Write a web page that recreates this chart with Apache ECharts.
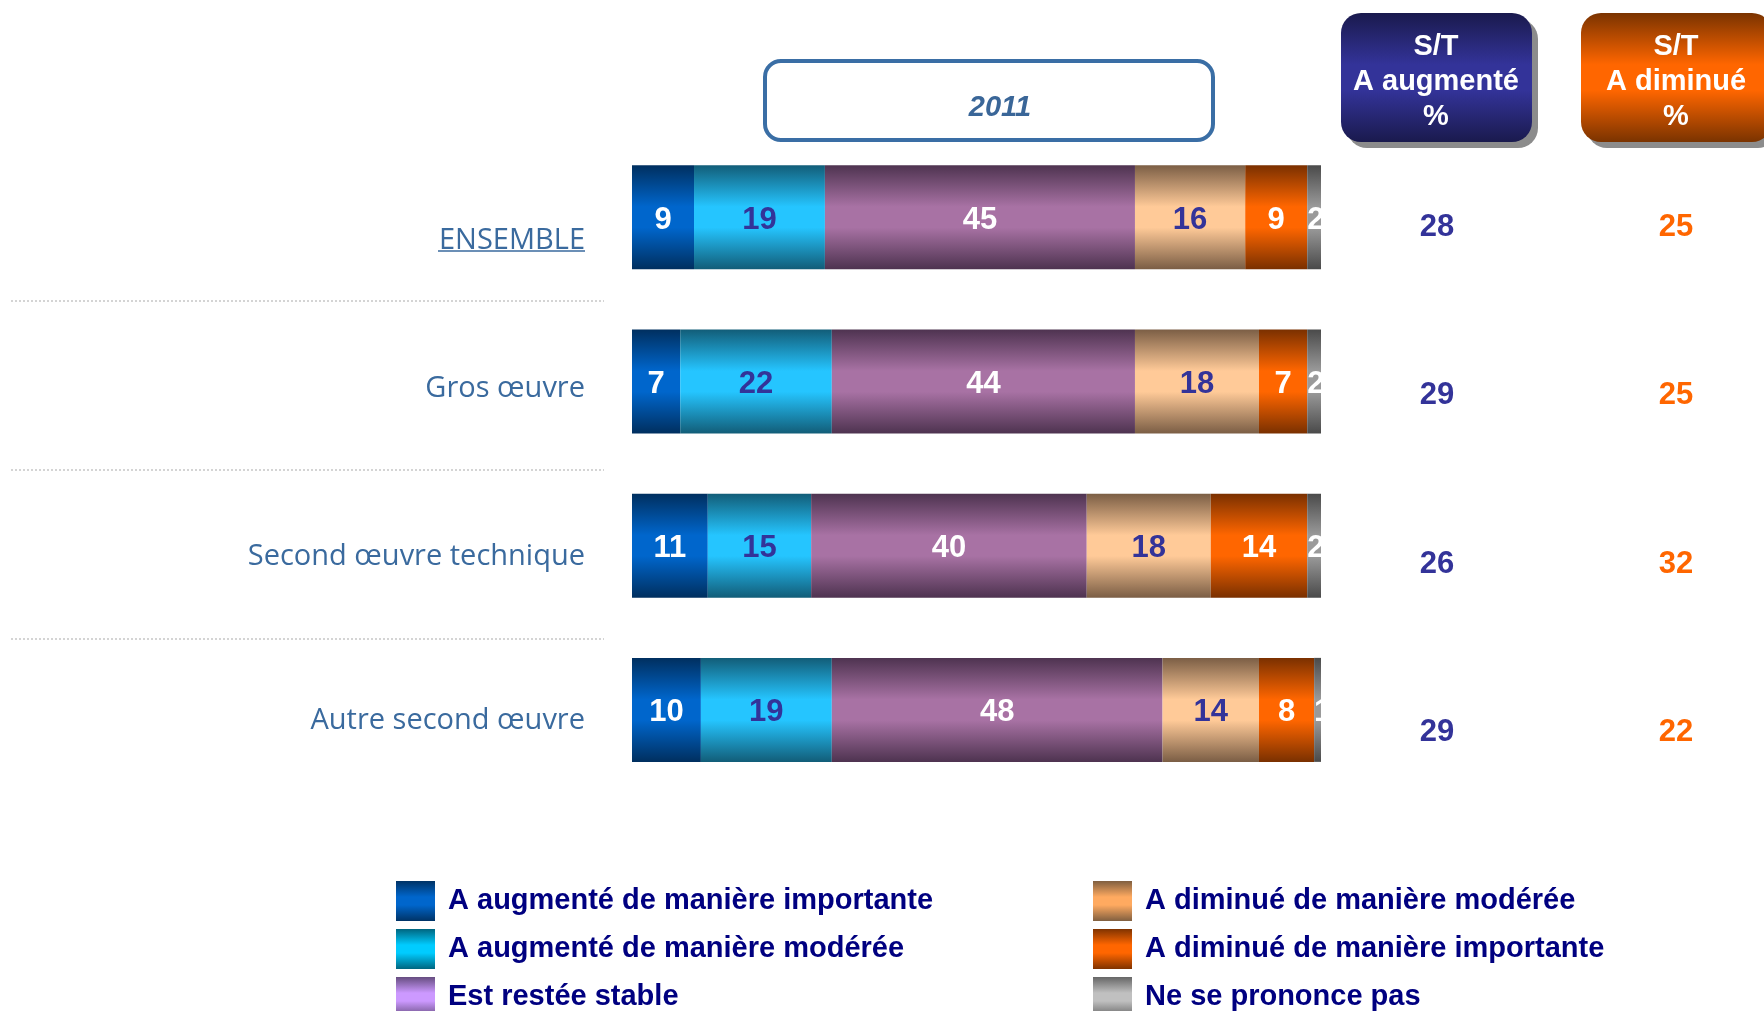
<!DOCTYPE html>
<html>
<head>
<meta charset="utf-8">
<script src="https://cdn.jsdelivr.net/npm/echarts@6/dist/echarts.min.js"></script>
<style>
html, body { margin: 0; padding: 0; background: #fff; }
#chart { width: 1764px; height: 1011px; }
</style>
</head>
<body>
<div id="chart"></div>
<script>
// données
var categories = ['ENSEMBLE', 'Gros œuvre', 'Second œuvre technique', 'Autre second œuvre'];
var augImportante = [9, 7, 11, 10];
var augModeree = [19, 22, 15, 19];
var stable = [45, 44, 40, 48];
var dimModeree = [16, 18, 18, 14];
var dimImportante = [9, 7, 14, 8];
var nsp = [2, 2, 2, 1];
var stAugmente = [28, 29, 26, 29];
var stDiminue = [25, 25, 32, 22];
var yearLabel = '2011';

var seriesNames = [
	'A augmenté de manière importante',
	'A augmenté de manière modérée',
	'Est restée stable',
	'A diminué de manière modérée',
	'A diminué de manière importante',
	'Ne se prononce pas'
];
var seriesData = [augImportante, augModeree, stable, dimModeree, dimImportante, nsp];

function grad(edge, mid) {
	return new echarts.graphic.LinearGradient(0, 0, 0, 1, [
		{ offset: 0, color: edge },
		{ offset: 0.4, color: mid },
		{ offset: 0.6, color: mid },
		{ offset: 1, color: edge }
	]);
}

// couleurs barres
var barColors = [
	grad('#002f5f', '#0066cc'),
	grad('#125d78', '#25c5ff'),
	grad('#4e3350', '#a872a4'),
	grad('#7b5e45', '#ffca98'),
	grad('#7a3000', '#ff6600'),
	grad('#4a4a4a', '#9a9a9a')
];
// couleurs légende
var legendColors = [
	grad('#003366', '#0066cc'),
	grad('#006680', '#00ccff'),
	grad('#664d80', '#cc99ff'),
	grad('#805f40', '#ffaa60'),
	grad('#803300', '#ff6600'),
	grad('#666666', '#c0c0c0')
];
var labelColors = ['#ffffff', '#333399', '#ffffff', '#333399', '#ffffff', '#ffffff'];

var chart = echarts.init(document.getElementById('chart'));

var series = [];
seriesNames.forEach(function(name, i) {
	series.push({
		name: name,
		type: 'bar',
		stack: 'total',
		barWidth: 104,
		xAxisIndex: 0,
		yAxisIndex: 0,
		data: seriesData[i],
		itemStyle: { color: barColors[i] },
		label: {
			show: true,
			position: i == 5 ? 'insideLeft' : 'inside',
			distance: 0,
			offset: [0, 3],
			fontFamily: 'Liberation Sans',
			fontWeight: 'bold',
			fontSize: 31,
			color: labelColors[i]
		}
	});
});

// colonnes S/T
function stSeries(name, values, col, color) {
	return {
		name: name,
		type: 'scatter',
		xAxisIndex: 1,
		yAxisIndex: 1,
		symbolSize: 1,
		itemStyle: { color: 'rgba(0,0,0,0)', opacity: 1 },
		data: values.map(function(v, i) { return [col, i, v]; }),
		label: {
			show: true,
			position: 'inside',
			formatter: function(p) { return p.value[2]; },
			fontFamily: 'Liberation Sans',
			fontWeight: 'bold',
			fontSize: 31,
			color: color
		}
	};
}
series.push(stSeries('S/T A augmenté', stAugmente, 0, '#333399'));
series.push(stSeries('S/T A diminué', stDiminue, 1, '#ff6600'));

function legendItems(from, to) {
	var out = [];
	for (var i = from; i < to; i++) {
		out.push({ name: seriesNames[i], itemStyle: { color: legendColors[i] } });
	}
	return out;
}
var legendBase = {
	orient: 'vertical',
	top: 881,
	height: 200,
	itemWidth: 39,
	itemHeight: 40,
	itemGap: 8,
	icon: 'rect',
	selectedMode: false,
	padding: 0,
	textStyle: {
		fontFamily: 'Liberation Sans',
		fontWeight: 'bold',
		fontSize: 29,
		color: '#000080',
		padding: [0, 0, 0, 8]
	}
};

function headerBox(x, edge, mid, text) {
	return [
		{ type: 'rect', shape: { x: x + 6, y: 19, width: 191, height: 129, r: 20 }, style: { fill: '#8c8c8c' } },
		{ type: 'rect', shape: { x: x, y: 13, width: 191, height: 129, r: 20 }, style: { fill: grad(edge, mid) } },
		{
			type: 'text', x: x + 95, y: 82,
			style: {
				text: text, align: 'center', verticalAlign: 'middle',
				font: 'bold 29px "Liberation Sans"', fill: '#ffffff', lineHeight: 35
			}
		}
	];
}

var graphics = [
	// encadré année
	{ type: 'rect', shape: { x: 765, y: 61, width: 448, height: 79, r: 16 }, style: { fill: '#fff', stroke: '#3a6ea5', lineWidth: 4 } },
	{ type: 'text', x: 1000, y: 108, style: { text: yearLabel, align: 'center', verticalAlign: 'middle', font: 'italic bold 29px "Liberation Sans"', fill: '#3a6698' } },
	// séparateurs
	{ type: 'line', shape: { x1: 11, y1: 301, x2: 604, y2: 301 }, style: { stroke: '#aaaaaa', lineWidth: 1, lineDash: [2, 2] } },
	{ type: 'line', shape: { x1: 11, y1: 470, x2: 604, y2: 470 }, style: { stroke: '#aaaaaa', lineWidth: 1, lineDash: [2, 2] } },
	{ type: 'line', shape: { x1: 11, y1: 639, x2: 604, y2: 639 }, style: { stroke: '#aaaaaa', lineWidth: 1, lineDash: [2, 2] } },
	// soulignement ENSEMBLE
	{ type: 'line', shape: { x1: 438, y1: 251, x2: 585, y2: 251 }, style: { stroke: '#3a6a9e', lineWidth: 1.5 } }
].concat(headerBox(1341, '#1a1a4d', '#333399', 'S/T\nA augmenté\n%'))
 .concat(headerBox(1581, '#7a3300', '#ff6600', 'S/T\nA diminué\n%'));

// décalage vertical des libellés
var labelPad = [47, 14, 22, 22];

var option = {
	animation: false,
	backgroundColor: '#ffffff',
	grid: [
		{ left: 632, right: 443, top: 135, bottom: 219 },
		{ left: 1437, right: 88, top: 143, bottom: 194 }
	],
	xAxis: [
		{ type: 'value', gridIndex: 0, min: 0, max: 100, show: false },
		{ type: 'value', gridIndex: 1, min: 0, max: 1, show: false }
	],
	yAxis: [
		{
			type: 'category',
			gridIndex: 0,
			inverse: true,
			data: categories,
			axisLine: { show: false },
			axisTick: { show: false },
			axisLabel: {
				margin: 47,
				fontFamily: 'Open Sans',
				fontSize: 29,
				color: '#3a6a9e',
				formatter: function(v, i) {
					return '{r' + i + '|' + v + '}';
				},
				rich: {
					r0: { fontFamily: 'Open Sans', fontSize: 29, color: '#3a6a9e', padding: [labelPad[0], 0, 0, 0] },
					r1: { fontFamily: 'Open Sans', fontSize: 29, color: '#3a6a9e', padding: [labelPad[1], 0, 0, 0] },
					r2: { fontFamily: 'Open Sans', fontSize: 29, color: '#3a6a9e', padding: [labelPad[2], 0, 0, 0] },
					r3: { fontFamily: 'Open Sans', fontSize: 29, color: '#3a6a9e', padding: [labelPad[3], 0, 0, 0] }
				}
			}
		},
		{ type: 'category', gridIndex: 1, inverse: true, data: categories, show: false }
	],
	legend: [
		echarts.util.merge({ left: 396, data: legendItems(0, 3) }, legendBase),
		echarts.util.merge({ left: 1093, data: legendItems(3, 6) }, legendBase)
	],
	graphic: graphics,
	series: series
};
chart.setOption(option);
</script>
</body>
</html>
